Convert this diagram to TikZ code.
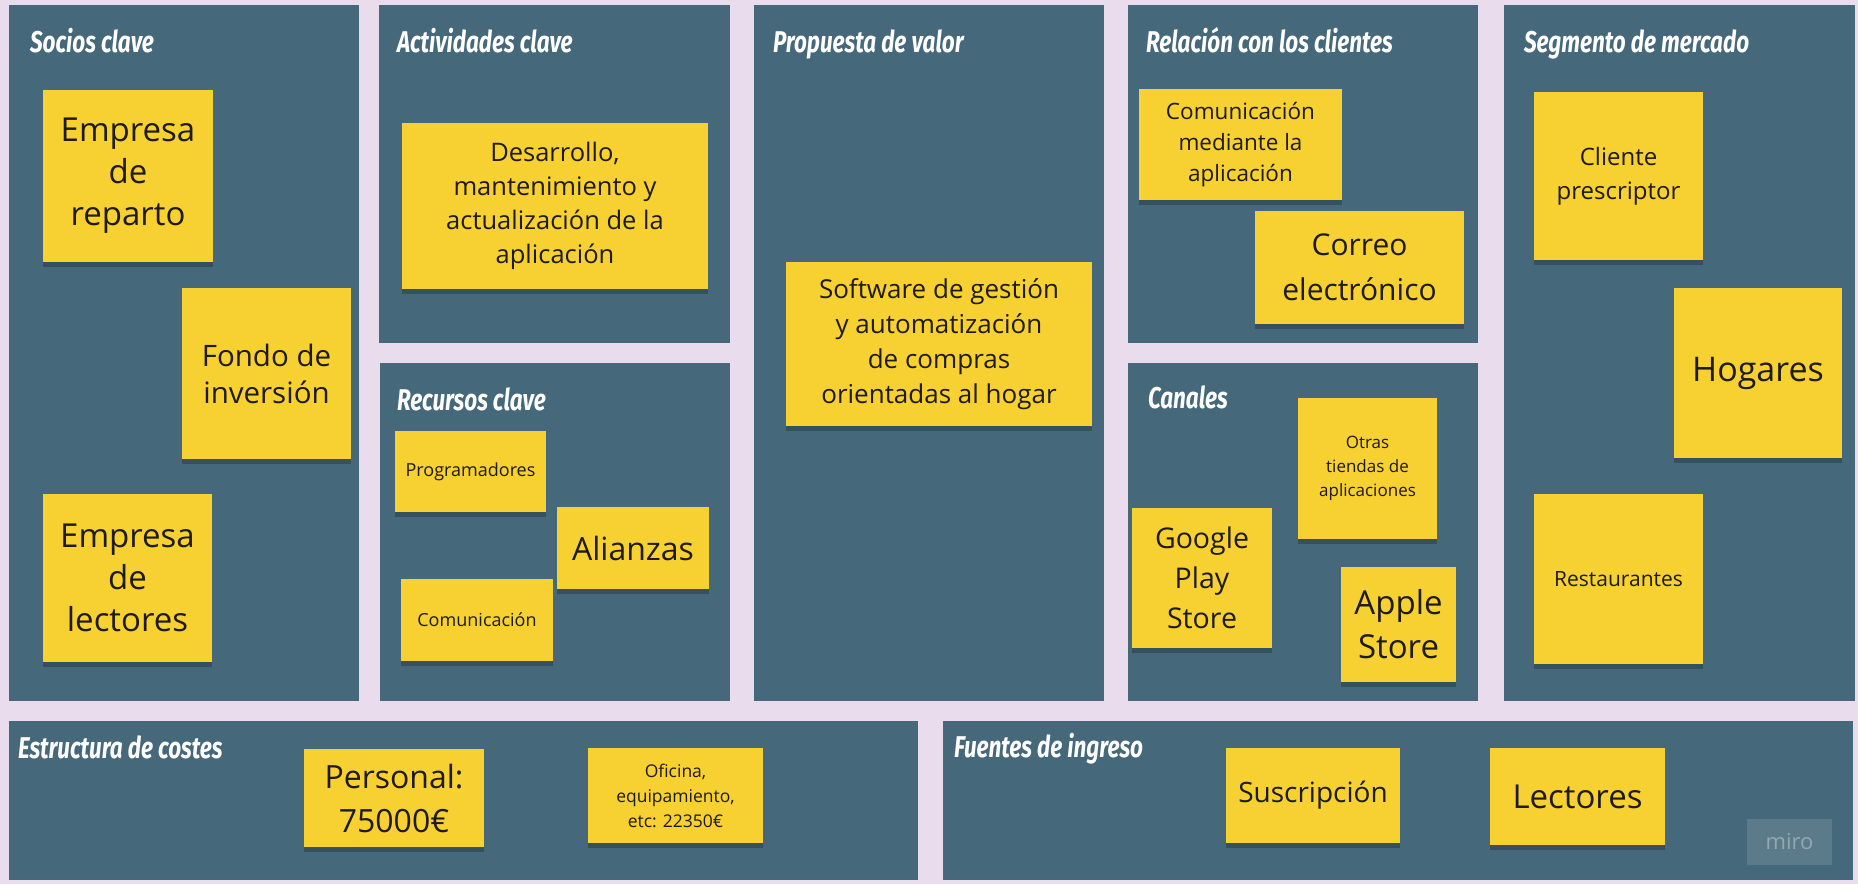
\documentclass[tikz,border=0pt]{standalone}
\usepackage{fontspec}
\usepackage{tikz}
\usetikzlibrary{positioning}
\usetikzlibrary{shadows}

\setmainfont{Open Sans}
\newfontfamily\titlefont{Fira Sans}[FakeStretch=0.75]
\newfontfamily\notefont{Open Sans}

\definecolor{canvas}{HTML}{E9DCEC}
\definecolor{panel}{HTML}{45687A}
\definecolor{sticky}{HTML}{F6D131}
\definecolor{ink}{HTML}{1E1A14}

\tikzset{
  panelbox/.style={fill=panel, inner sep=0pt},
  heading/.style={text=white, anchor=base west, inner sep=0pt,
    font=\titlefont\bfseries\itshape\fontsize{30}{33}\selectfont},
  sticky/.style={fill=sticky, text=ink, align=center, inner sep=0pt,
    drop shadow={shadow xshift=0pt, shadow yshift=-5pt, opacity=0.22, fill=black}},
  note/.style 2 args={font=\notefont\fontsize{#1}{#2}\selectfont},
}

\begin{document}
\begin{tikzpicture}[x=1pt, y=-1pt]

	%Canvas
	\fill[canvas] (0,0) rectangle (1858,884);
	\useasboundingbox (0,0) rectangle (1858,884);

	%Panels
	\node[panelbox, minimum width=350pt, minimum height=696pt] (Socios) at (184,353) {};
	\node[panelbox, minimum width=351pt, minimum height=338pt] (Actividades) at (554.5,174) {};
	\node[panelbox, minimum width=350pt, minimum height=338pt] (Recursos) at (555,532) {};
	\node[panelbox, minimum width=350pt, minimum height=696pt] (Propuesta) at (929,353) {};
	\node[panelbox, minimum width=350pt, minimum height=338pt] (Relacion) at (1303,174) {};
	\node[panelbox, minimum width=350pt, minimum height=338pt] (Canales) at (1303,532) {};
	\node[panelbox, minimum width=351pt, minimum height=696pt] (Segmento) at (1679.5,353) {};
	\node[panelbox, minimum width=909pt, minimum height=159pt] (Costes) at (463.5,800.5) {};
	\node[panelbox, minimum width=910pt, minimum height=159pt] (Fuentes) at (1398,800.5) {};

	%Titles
	\node[heading] (SociosT) at ([shift={(21,48)}]Socios.north west) {Socios clave};
	\node[heading] (ActividadesT) at ([shift={(18,48)}]Actividades.north west) {Actividades clave};
	\node[heading] (RecursosT) at ([shift={(17,48)}]Recursos.north west) {Recursos clave};
	\node[heading] (PropuestaT) at ([shift={(19,48)}]Propuesta.north west) {Propuesta de valor};
	\node[heading] (RelacionT) at ([shift={(18,48)}]Relacion.north west) {Relación con los clientes};
	\node[heading] (CanalesT) at ([shift={(20,46)}]Canales.north west) {Canales};
	\node[heading] (SegmentoT) at ([shift={(20,48)}]Segmento.north west) {Segmento de mercado};
	\node[heading] (CostesT) at ([shift={(9,38)}]Costes.north west) {Estructura de costes};
	\node[heading] (FuentesT) at ([shift={(11,37)}]Fuentes.north west) {Fuentes de ingreso};

	%Notes
	\node[sticky, minimum width=170pt, minimum height=172pt, note={33}{42}] (Reparto) at (128,176) {Empresa\\de\\reparto};
	\node[sticky, minimum width=169pt, minimum height=171pt, note={29.5}{37}] (Fondo) at (266.5,373.5) {Fondo de\\inversión};
	\node[sticky, minimum width=169pt, minimum height=168pt, note={33}{42}] (EmpLectores) at (127.5,578) {Empresa\\de\\lectores};

	\node[sticky, minimum width=306pt, minimum height=166pt, note={25.5}{34}] (Desarrollo) at (555,206) {Desarrollo,\\mantenimiento y\\actualización de la\\aplicación};

	\node[sticky, minimum width=151pt, minimum height=81pt, note={18}{22}] (Programadores) at (470.5,471.5) {Programadores};
	\node[sticky, minimum width=152pt, minimum height=82pt, note={32}{36}] (Alianzas) at (633,548) {Alianzas};
	\node[sticky, minimum width=152pt, minimum height=82pt, note={18}{22}] (Comunicacion) at (477,620) {Comunicación};

	\node[sticky, minimum width=306pt, minimum height=164pt, note={26}{35}] (Software) at (939,344) {Software de gestión\\y automatización\\de compras\\orientadas al hogar};

	\node[sticky, minimum width=203pt, minimum height=111pt, note={22.5}{31}] (Mediante) at (1240.5,144.5) {Comunicación\\mediante la\\aplicación};
	\node[sticky, minimum width=209pt, minimum height=113pt, note={30}{45}] (Correo) at (1359.5,267.5) {Correo\\electrónico};

	\node[sticky, minimum width=139pt, minimum height=141pt, note={17}{24}] (Otras) at (1367.5,468.5) {Otras\\tiendas de\\aplicaciones};
	\node[sticky, minimum width=140pt, minimum height=140pt, note={28.5}{40}] (Google) at (1202,578) {Google\\Play\\Store};
	\node[sticky, minimum width=115pt, minimum height=115pt, note={33}{44}] (Apple) at (1398.5,624.5) {Apple\\Store};

	\node[sticky, minimum width=169pt, minimum height=168pt, note={24}{34}] (Cliente) at (1618.5,176) {Cliente\\prescriptor};
	\node[sticky, minimum width=168pt, minimum height=170pt, note={34}{40}] (Hogares) at (1758,373) {Hogares};
	\node[sticky, minimum width=169pt, minimum height=170pt, note={21}{25}] (Restaurantes) at (1618.5,579) {Restaurantes};

	\node[sticky, minimum width=180pt, minimum height=98pt, note={32}{44}] (Personal) at (394,798) {Personal:\\75000€};
	\node[sticky, minimum width=175pt, minimum height=95pt, note={17.5}{25}] (Oficina) at (675.5,795.5) {Oficina,\\equipamiento,\\etc: 22350€};

	\node[sticky, minimum width=174pt, minimum height=95pt, note={28}{32}] (Suscripcion) at (1313,795.5) {Suscripción};
	\node[sticky, minimum width=175pt, minimum height=97pt, note={33}{38}] (Lectores) at (1577.5,796.5) {Lectores};

	%Watermark
	\node[fill=white, fill opacity=0.12, text=white, text opacity=0.35, inner sep=0pt,
	      minimum width=85pt, minimum height=46pt, font=\notefont\fontsize{22}{26}\selectfont] (Miro) at (1789.5,842) {miro};

\end{tikzpicture}
\end{document}
